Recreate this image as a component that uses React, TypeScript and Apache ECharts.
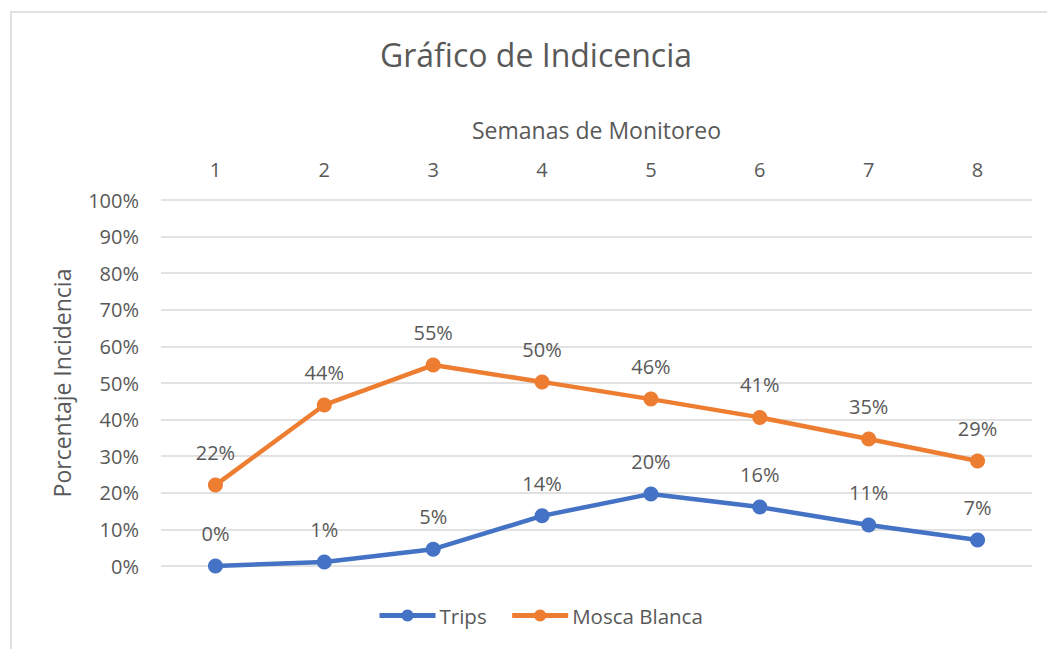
import React, { useEffect, useRef } from "react";
import * as echarts from "echarts";

const weeks = ["1", "2", "3", "4", "5", "6", "7", "8"];
const trips = [0.0, 0.011, 0.046, 0.137, 0.197, 0.161, 0.112, 0.071];
const moscaBlanca = [0.221, 0.44, 0.549, 0.503, 0.456, 0.406, 0.347, 0.287];

const FONT = "'Open Sans', 'Noto Sans', sans-serif";
const TXT = "#595959";

export default function App() {
  const ref = useRef<HTMLDivElement>(null);
  useEffect(() => {
    if (!ref.current) return;
    const chart = echarts.init(ref.current, null, { renderer: "svg" });
    const pct = (v: number) => Math.round(v * 100) + "%";
    const labelCfg = {
      show: true,
      position: "top",
      distance: 15,
      color: TXT,
      fontSize: 20,
      fontFamily: FONT,
      formatter: (p: any) => pct(p.value),
    };
    chart.setOption({
      animation: false,
      backgroundColor: "#ffffff",
      textStyle: { fontFamily: FONT },
      graphic: [
        {
          type: "rect",
          shape: { x: 11, y: 12, width: 1060, height: 660 },
          style: { fill: "none", stroke: "#d9d9d9", lineWidth: 1.5 },
          silent: true,
          z: -1,
        },
      ],
      title: {
        text: "Gráfico de Indicencia",
        left: 531,
        textAlign: "center",
        top: 33,
        textStyle: { color: TXT, fontSize: 32, fontWeight: "normal", fontFamily: FONT },
      },
      grid: { left: 161, right: 15, top: 200, bottom: 83 },
      legend: {
        data: ["Trips", "Mosca Blanca"],
        bottom: 18,
        left: 372,
        itemWidth: 56,
        itemHeight: 15,
        itemGap: 23,
        lineStyle: { width: 5 },
        textStyle: { color: TXT, fontSize: 20.5, fontFamily: FONT, padding: [0, 0, 0, -1] },
      },
      xAxis: {
        type: "category",
        data: weeks,
        position: "top",
        boundaryGap: true,
        name: "Semanas de Monitoreo",
        nameLocation: "middle",
        nameGap: 59,
        nameTextStyle: { color: TXT, fontSize: 23, fontFamily: FONT },
        axisLine: { show: false },
        axisTick: { show: false },
        axisLabel: { color: TXT, fontSize: 20, fontFamily: FONT, margin: 21 },
      },
      yAxis: {
        type: "value",
        min: 0,
        max: 1,
        interval: 0.1,
        name: "Porcentaje Incidencia",
        nameLocation: "middle",
        nameGap: 88,
        nameTextStyle: { color: TXT, fontSize: 23, fontFamily: FONT },
        axisLine: { show: false },
        axisTick: { show: false },
        axisLabel: {
          color: TXT,
          fontSize: 20,
          fontFamily: FONT,
          margin: 22,
          formatter: (v: number) => Math.round(v * 100) + "%",
        },
        splitLine: { lineStyle: { color: "#d9d9d9", width: 1.5 } },
      },
      series: [
        {
          name: "Trips",
          type: "line",
          data: trips,
          symbol: "circle",
          symbolSize: 15,
          itemStyle: { color: "#4472C4" },
          lineStyle: { color: "#4472C4", width: 4.5 },
          label: labelCfg,
        },
        {
          name: "Mosca Blanca",
          type: "line",
          data: moscaBlanca,
          symbol: "circle",
          symbolSize: 15,
          itemStyle: { color: "#ED7D31" },
          lineStyle: { color: "#ED7D31", width: 4.5 },
          label: labelCfg,
        },
      ],
    });
    return () => chart.dispose();
  }, []);
  return (
    <div
      ref={ref}
      style={{ position: "absolute", left: 0, top: 0, width: 1047, height: 649 }}
    />
  );
}
